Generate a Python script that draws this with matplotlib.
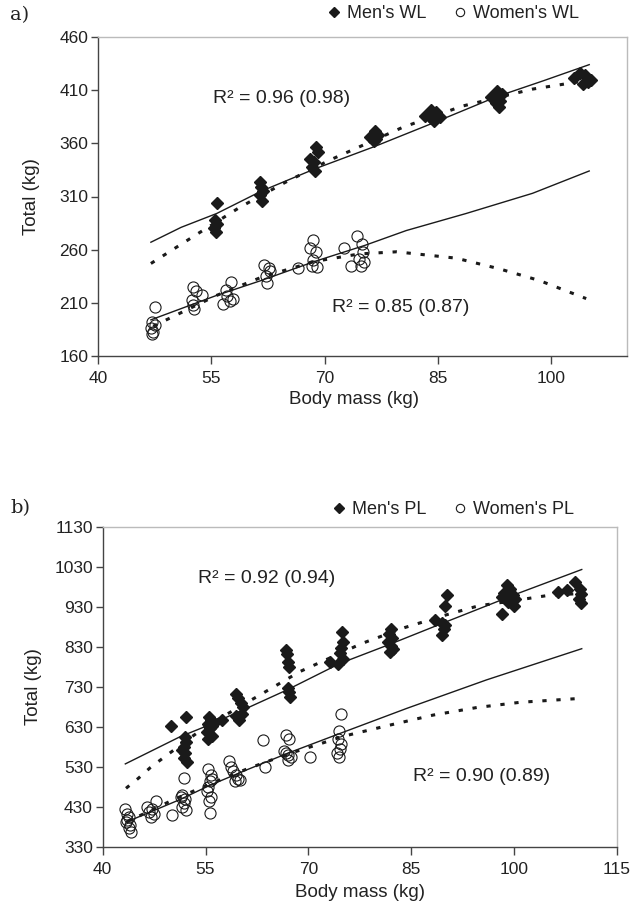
import matplotlib
matplotlib.use("Agg")
import matplotlib.pyplot as plt
from matplotlib.lines import Line2D

plt.rcParams['font.family'] = ['Liberation Sans', 'DejaVu Sans']

# ---------------- a) weightlifting ----------------
men_wl_bm = [55.7, 55.5, 55.7, 55.4, 55.6,
             61.4, 61.6, 61.8, 61.5, 61.7,
             68.9, 69.1, 68.0, 68.6, 68.3, 68.7,
             76.0, 76.6, 77.0, 76.5, 76.8,
             83.3, 84.0, 84.7, 85.2, 84.4, 84.0,
             92.0, 92.8, 93.5, 93.2, 92.6, 93.0,
             103.0, 103.8, 104.5, 105.2, 104.2, 104.8]
men_wl_total = [304, 288, 284, 280, 277,
                324, 319, 315, 311, 306,
                357, 352, 345, 342, 338, 334,
                366, 372, 368, 362, 364,
                386, 391, 389, 385, 381, 384,
                404, 409, 406, 400, 398, 394,
                421, 426, 424, 420, 416, 418]

women_wl_bm = [47.6, 47.2, 47.5, 47.0, 47.3, 47.1,
               52.6, 53.0, 53.8, 52.4, 52.6, 52.7,
               57.6, 56.9, 57.1, 57.5, 56.6, 57.9,
               62.0, 62.6, 62.8, 62.2, 62.4,
               66.5, 68.5, 68.0, 68.9, 68.5, 68.3, 69.0,
               72.6, 74.3, 74.9, 75.1, 74.6, 73.5, 74.8, 75.2]
women_wl_total = [206, 192, 189, 186, 183, 181,
                  225, 221, 217, 213, 208, 204,
                  230, 222, 216, 212, 209, 214,
                  246, 243, 240, 235, 229,
                  243, 269, 262, 258, 250, 245, 244,
                  262, 273, 265, 258, 251, 245, 245, 248]

# fitted curves (solid = allometric, dashed = quadratic)
men_wl_pow_bm = [47, 51, 55.7, 61.6, 68.7, 76.6, 84.3, 92.8, 99, 105]
men_wl_pow = [267, 281, 294, 315, 336, 357, 379, 404, 419, 434]
men_wl_quad_bm = [47, 53.2, 58.8, 64.7, 70.6, 80.3, 88.2, 97.5, 104.6]
men_wl_quad = [247, 275, 300, 323, 344, 375, 395, 411, 419]
women_wl_pow_bm = [47, 55.7, 61.6, 68.7, 75.3, 80.8, 88.7, 97.5, 105]
women_wl_pow = [194, 217, 231, 249, 264, 278, 294, 313, 334]
women_wl_quad_bm = [47.3, 55.7, 61.6, 68.7, 74.6, 79.5, 87.4, 93.1, 98.4, 104.6]
women_wl_quad = [188, 217, 234, 249, 256, 258, 252, 242, 231, 214]

# ---------------- b) powerlifting ----------------
men_pl_bm = [50.0, 52.1,
             52.0, 52.2, 51.8, 52.0, 51.9, 52.3, 51.6,
             55.5, 55.8, 55.3, 55.6, 55.2, 55.9, 55.4, 56.0, 56.3,
             57.4,
             59.5, 59.8, 60.2, 60.5, 59.5, 59.9, 60.3,
             66.7, 66.9, 67.0, 67.2, 67.0, 67.2, 67.3,
             73.2, 74.4, 74.9, 75.0, 74.8, 74.6, 75.1,
             82.0, 81.8, 82.2, 81.7, 82.0, 82.3, 81.9,
             90.2, 90.0, 88.5, 89.5, 90.0, 89.8, 89.5,
             99.0, 99.5, 98.5, 99.8, 100.2, 98.2, 99.2, 100.0, 98.3,
             106.5, 107.8, 108.9, 109.6, 109.8, 109.5, 109.8]
men_pl_total = [632, 655,
                605, 592, 580, 565, 552, 542, 572,
                655, 646, 636, 626, 616, 608, 600, 632, 640,
                647,
                712, 702, 690, 680, 656, 648, 662,
                822, 812, 792, 780, 727, 716, 704,
                792, 788, 866, 842, 828, 815, 800,
                875, 862, 852, 842, 832, 824, 816,
                959, 933, 896, 890, 884, 874, 860,
                985, 975, 965, 960, 950, 955, 942, 932, 912,
                966, 972, 992, 975, 962, 950, 940]

women_pl_bm = [43.2, 43.5, 43.8, 43.6, 43.4, 44.0, 43.9, 44.2,
               46.5, 46.8, 47.5, 47.8, 47.2, 47.0,
               50.1,
               51.5, 52.0, 51.8, 51.5, 52.2, 51.4, 51.8,
               55.3, 55.8, 55.6, 55.4, 55.2, 55.8, 55.5, 55.6, 56.0,
               58.5, 58.7, 59.0, 59.5, 59.8, 59.3, 60.0,
               63.4, 63.7,
               66.8, 67.2, 66.5, 67.0, 67.5, 67.0, 66.7,
               70.3,
               74.8, 74.5, 74.3, 74.8, 74.6, 74.2, 74.5]
women_pl_total = [425, 412, 405, 398, 392, 385, 378, 368,
                  430, 418, 412, 445, 425, 405,
                  409,
                  460, 450, 440, 430, 422, 455, 502,
                  525, 510, 495, 480, 470, 455, 445, 415, 500,
                  545, 530, 520, 510, 500, 495, 497,
                  597, 530,
                  610, 600, 570, 560, 555, 548, 565,
                  555,
                  663, 620, 600, 588, 575, 565, 555]

men_pl_pow_bm = [43.3, 51.3, 55.2, 61, 66.9, 74.6, 81.9, 89.2, 95.1, 100.4, 109.9]
men_pl_pow = [537, 605, 632, 676, 722, 788, 836, 886, 926, 962, 1023]
men_pl_quad_bm = [43.4, 45.2, 46.9, 48.75, 55, 62.7, 68.8, 77.8, 84.1, 90.4, 94.8, 101.1, 105.3, 109.9]
men_pl_quad = [476, 501, 527, 551, 630, 707, 768, 838, 878, 911, 932, 948, 959, 963]
women_pl_pow_bm = [43.5, 51.3, 55.7, 61, 66.9, 74.6, 84.4, 96, 109.9]
women_pl_pow = [392, 448, 484, 522, 563, 613, 676, 747, 825]
women_pl_quad_bm = [43.5, 50.5, 55.7, 61, 66.9, 71.5, 75.1, 81.9, 88.2, 94.6, 100.9, 109.9]
women_pl_quad = [392, 449, 487, 524, 561, 586, 606, 634, 659, 678, 691, 701]

ink = '#1a1a1a'
text_c = '#222222'


def style_axes(ax, xlim, xticks, ylim, yticks):
    ax.set_xlim(*xlim)
    ax.set_ylim(*ylim)
    ax.set_xticks(xticks)
    ax.set_yticks(yticks)
    for side in ['left', 'bottom']:
        ax.spines[side].set_color('#444444')
        ax.spines[side].set_linewidth(1.0)
    for side in ['top', 'right']:
        ax.spines[side].set_color('#bbbbbb')
        ax.spines[side].set_linewidth(1.0)
    ax.tick_params(axis='x', direction='out', length=6, width=1.0, color='#444444',
                   labelsize=12.5, labelcolor=text_c, pad=5)
    ax.tick_params(axis='y', direction='out', length=5, width=1.0, color='#444444',
                   labelsize=12.5, labelcolor=text_c, pad=2)
    ax.set_xlabel('Body mass (kg)', fontsize=13.5, color=text_c)
    ax.set_ylabel('Total (kg)', fontsize=13.5, color=text_c)


def draw_panel(ax, men_bm, men_tot, women_bm, women_tot, curves):
    for bm, tot in curves['solid']:
        ax.plot(bm, tot, color=ink, lw=1.0, zorder=2)
    for bm, tot in curves['dashed']:
        ax.plot(bm, tot, color=ink, lw=2.2, dashes=(1.4, 3.2), zorder=2)
    ax.plot(men_bm, men_tot, linestyle='none', marker='D', markersize=6.5,
            color=ink, markeredgecolor=ink, zorder=3)
    ax.plot(women_bm, women_tot, linestyle='none', marker='o', markersize=8,
            markerfacecolor='none', markeredgecolor=ink, markeredgewidth=0.8, zorder=3)


fig = plt.figure(figsize=(6.39, 9.08), dpi=100)

# panel a
ax1 = fig.add_axes([98 / 639, 1 - 356 / 908, 529 / 639, 319 / 908])
draw_panel(ax1, men_wl_bm, men_wl_total, women_wl_bm, women_wl_total,
           {'solid': [(men_wl_pow_bm, men_wl_pow), (women_wl_pow_bm, women_wl_pow)],
            'dashed': [(men_wl_quad_bm, men_wl_quad), (women_wl_quad_bm, women_wl_quad)]})
style_axes(ax1, (40, 110), [40, 55, 70, 85, 100], (160, 460), list(range(160, 461, 50)))
ax1.text(55.2, 402, 'R² = 0.96 (0.98)', fontsize=14, color=text_c, va='center')
ax1.text(70.9, 206, 'R² = 0.85 (0.87)', fontsize=14, color=text_c, va='center')
ax1.xaxis.set_label_coords(0.483, -0.11)
ax1.yaxis.set_label_coords(-0.11, 0.5)

# panel b
ax2 = fig.add_axes([102.7 / 639, 1 - 846.7 / 908, 514 / 639, 320 / 908])
draw_panel(ax2, men_pl_bm, men_pl_total, women_pl_bm, women_pl_total,
           {'solid': [(men_pl_pow_bm, men_pl_pow), (women_pl_pow_bm, women_pl_pow)],
            'dashed': [(men_pl_quad_bm, men_pl_quad), (women_pl_quad_bm, women_pl_quad)]})
style_axes(ax2, (40, 115), [40, 55, 70, 85, 100, 115], (330, 1130), list(range(330, 1131, 100)))
ax2.text(53.9, 1001, 'R² = 0.92 (0.94)', fontsize=14, color=text_c, va='center')
ax2.text(85.3, 506, 'R² = 0.90 (0.89)', fontsize=14, color=text_c, va='center')
ax2.xaxis.set_label_coords(0.5, -0.118)
ax2.yaxis.set_label_coords(-0.118, 0.5)

# legends
def legend_handles(men_label, women_label):
    return [Line2D([], [], linestyle='none', marker='D', markersize=5, color=ink, label=men_label),
            Line2D([], [], linestyle='none', marker='o', markersize=6, markerfacecolor='none',
                   markeredgecolor=ink, markeredgewidth=0.8, label=women_label)]

for handles, y in [(legend_handles("Men's WL", "Women's WL"), 1 - 14 / 908),
                   (legend_handles("Men's PL", "Women's PL"), 1 - 510 / 908)]:
    fig.legend(handles=handles, loc='center', bbox_to_anchor=(0.71, y), ncol=2,
               frameon=False, fontsize=13, handlelength=0.6, handletextpad=0.4,
               columnspacing=1.6, labelcolor=text_c)

fig.text(10 / 639, 1 - 15 / 908, 'a)', fontsize=14, family=['DejaVu Serif'],
         color=text_c, va='center')
fig.text(10 / 639, 1 - 508 / 908, 'b)', fontsize=14, family=['DejaVu Serif'],
         color=text_c, va='center')

fig.savefig('out.png', dpi=100)
